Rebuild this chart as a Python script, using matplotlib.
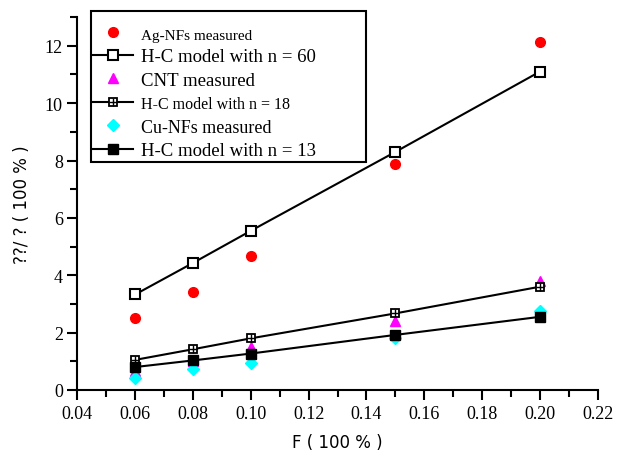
import matplotlib.pyplot as plt
from matplotlib.legend_handler import HandlerTuple
from matplotlib.patches import Rectangle
import numpy as np

# volume fraction F
f = [0.06, 0.08, 0.10, 0.15, 0.20]

ag_meas = [2.50, 3.42, 4.68, 7.87, 12.13]
hc_60 = [3.33, 4.43, 5.55, 8.30, 11.10]
cnt_meas = [0.65, 1.00, 1.50, 2.42, 3.80]
hc_18 = [1.05, 1.42, 1.80, 2.67, 3.60]
cu_meas = [0.42, 0.72, 0.95, 1.80, 2.75]
hc_13 = [0.80, 1.03, 1.27, 1.92, 2.55]

xticks = [0.04, 0.06, 0.08, 0.10, 0.12, 0.14, 0.16, 0.18, 0.20, 0.22]

plt.rcParams['font.family'] = ['Liberation Serif', 'DejaVu Serif']

fig = plt.figure(figsize=(6.24, 4.52), dpi=100)
ax = fig.add_axes([0.124, 0.135, 0.834, 0.825])

h_ag, = ax.plot(f, ag_meas, 'o', color='red', ms=7, ls='none')
h_cnt, = ax.plot(f, cnt_meas, '^', color='magenta', ms=7, ls='none')
h_cu, = ax.plot(f, cu_meas, 'D', color='cyan', ms=6, ls='none')

h_60, = ax.plot(f, hc_60, '-s', color='black', lw=1.5, ms=7, mfc='white', mew=1.5)
h_18, = ax.plot(f, hc_18, '-s', color='black', lw=1.5, ms=6, mfc='white', mew=1.3)
h_18p, = ax.plot(f, hc_18, '+', color='black', ms=6, mew=1.0, ls='none')
h_13, = ax.plot(f, hc_13, '-s', color='black', lw=1.5, ms=6.5, mfc='black')

ax.set_xlim(0.04, 0.22)
ax.set_ylim(0, 13)
ax.set_xticks(xticks)
ax.set_xticks(np.arange(0.05, 0.22, 0.02), minor=True)
ax.set_yticks(np.arange(0, 13, 2))
ax.set_yticks(np.arange(1, 14, 2), minor=True)
ax.set_xticklabels(['%.2f' % v for v in xticks])

for side in ['top', 'right']:
    ax.spines[side].set_visible(False)
for side in ['left', 'bottom']:
    ax.spines[side].set_linewidth(1.5)
ax.tick_params(which='major', direction='out', length=7, width=1.5, labelsize=13)
ax.tick_params(which='minor', direction='out', length=5, width=1.5)

ax.set_xlabel('F ( 100 % )', fontsize=12, labelpad=8, family='DejaVu Sans')
ax.set_ylabel('??/ ? ( 100 % )', fontsize=12, labelpad=10, family='DejaVu Sans')

handles = [h_ag, h_60, h_cnt, (h_18, h_18p), h_cu, h_13]
labels = ['Ag-NFs measured', 'H-C model with n = 60', 'CNT measured',
          'H-C model with n = 18', 'Cu-NFs measured', 'H-C model with n = 13']
leg = fig.legend(handles, labels, loc='upper left', bbox_to_anchor=(0.1324, 0.962),
                 handler_map={tuple: HandlerTuple(ndivide=1)},
                 frameon=False, handlelength=2.2, handletextpad=0.43,
                 labelspacing=0.34, borderpad=0.5, borderaxespad=0,
                 prop={'size': 13.5})
sizes = [11, 13.5, 13.5, 11.5, 13, 13.5]
for t, s in zip(leg.get_texts(), sizes):
    t.set_fontsize(s)

# legend box
fig.patches.append(Rectangle((91 / 624, 1 - 163 / 452), 275 / 624, 151 / 452,
                             transform=fig.transFigure, fill=False,
                             edgecolor='black', lw=1.5, zorder=0))

fig.savefig('out.png', dpi=100)
